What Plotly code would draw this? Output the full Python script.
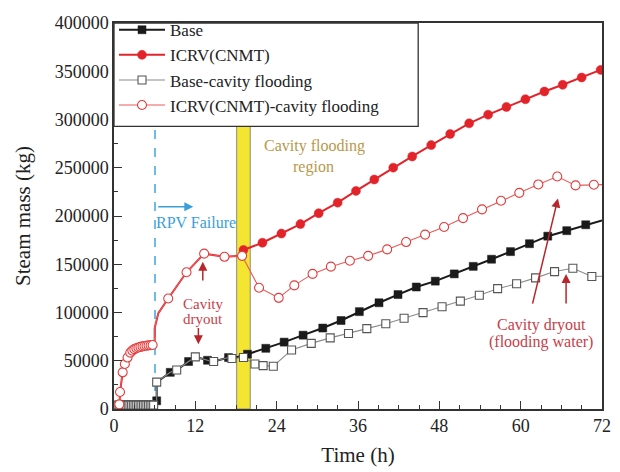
import plotly.graph_objects as go

FONT = "Liberation Serif"

# ---------------- data (hours, kg) ----------------
# shared pre-flooding path of Base / Base-cavity flooding; owner: F = Base marker, O = Base-cavity flooding marker
pre_base_t = [0.6, 0.85, 1.1, 1.35, 1.6, 1.85, 2.1, 2.35, 2.6, 2.85, 3.1, 3.35, 3.6, 3.85, 4.1, 4.35,
              4.6, 4.85, 5.1, 5.35, 5.6, 5.85, 6.3, 6.3, 8.3, 9.25, 11.0, 12.0, 13.8, 14.7, 16.9, 17.4]
pre_base_v = [4000, 4000, 4000, 4000, 4000, 4000, 4000, 4000, 4000, 4000, 4000, 4000, 4000, 4000, 4000, 4000,
              4000, 4000, 4000, 4000, 4000, 4000, 8500, 27800, 38000, 40400, 49200, 54000, 50500, 49200, 53300, 52300]
pre_base_owner = ["O", "O", "O", "O", "O", "O", "O", "O", "O", "O", "O", "O", "O", "O", "O", "O",
                  "O", "O", "O", "O", "O", "O", "F", "O", "F", "O", "F", "O", "F", "O", "F", "O"]

base_post_t = [19.7, 22.4, 25.1, 27.9, 30.8, 33.5, 36.2, 39.1, 41.9, 44.6, 47.4, 50.2, 53.0, 55.7,
               58.5, 61.3, 64.0, 66.8, 69.6]
base_post_v = [56800, 62900, 69300, 76500, 83900, 91700, 100900, 110100, 118600, 126400, 132500, 140000,
               147800, 155200, 163100, 171300, 179100, 184800, 190900]
base_end_v = 195400

basecf_post_t = [19.1, 20.8, 22.0, 23.5, 26.2, 29.1, 31.9, 34.6, 37.3, 40.1, 42.8, 45.6, 48.4, 51.1,
                 53.9, 56.6, 59.4, 62.2, 65.0, 67.7, 70.5]
basecf_post_v = [53300, 46600, 44900, 44300, 61200, 68000, 73700, 78200, 83300, 88400, 94100, 99900,
                 106000, 111800, 117900, 124700, 129800, 135900, 142400, 145800, 137300]
basecf_end_v = 137600

# shared pre-flooding path of ICRV(CNMT) / ICRV(CNMT)-cavity flooding; 1 = open-circle marker shown
pre_icrv_t = [0.78, 0.78, 0.89, 1.28, 1.6, 2.0, 2.4, 2.7, 3.0, 3.3, 3.6, 3.9, 4.2, 4.5, 4.8, 5.1, 5.4, 5.7,
              6.0, 6.0, 6.54, 8.0, 10.7, 13.3, 16.3, 18.9]
pre_icrv_v = [0, 4800, 17600, 38000, 46600, 53300, 58400, 60500, 62000, 63000, 63800, 64400, 64900, 65300,
              65600, 65900, 66100, 66300, 66300, 83900, 99200, 114500, 141700, 161000, 157700, 158700]
pre_icrv_mk = [0, 1, 1, 1, 1, 1, 1, 1, 1, 1, 1, 1, 1, 1, 1, 1, 1, 1, 0, 0, 0, 1, 1, 1, 1, 1]

icrv_post_t = [19.1, 21.9, 24.7, 27.5, 30.2, 33.0, 35.7, 38.4, 41.2, 44.0, 46.8, 49.6, 52.4, 55.2,
               57.9, 60.7, 63.5, 66.2, 69.0, 71.8]
icrv_post_v = [164800, 172300, 181800, 191600, 202900, 213800, 226000, 237800, 250100, 261700, 273500,
               285000, 296000, 305000, 313000, 321000, 329000, 336000, 343500, 351400]

icrvcf_post_t = [21.4, 24.3, 26.6, 29.3, 32.0, 34.8, 37.5, 40.3, 43.1, 45.9, 48.7, 51.5, 54.3, 57.1,
                 59.8, 62.6, 65.4, 68.1, 70.8]
icrvcf_post_v = [125700, 115200, 128100, 140000, 147500, 153600, 158700, 165400, 173000, 180700, 188600,
                 197800, 206900, 215800, 224000, 232700, 240900, 231700, 232400]
icrvcf_end_v = 232500

t_end = 72.0
rpv_failure_t = 6.05
flood_t0, flood_t1 = 18.1, 20.1

x_ticks = [0, 12, 24, 36, 48, 60, 72]
y_ticks = [0, 50000, 100000, 150000, 200000, 250000, 300000, 350000, 400000]

names = ["Base", "ICRV(CNMT)", "Base-cavity flooding", "ICRV(CNMT)-cavity flooding"]

# ---------------- styles ----------------
BLACK = "#1a1a1a"
RED = "#e3232a"
GRAY_LINE = "#8a8a8a"
GRAY_MK = "#555555"
PINK_LINE = "#ea5a5a"
PINK_MK = "#e43c3c"

# ---------------- build series ----------------
base_line_t = pre_base_t + base_post_t + [t_end]
base_line_v = pre_base_v + base_post_v + [base_end_v]
base_mk_t = [t for t, o in zip(pre_base_t, pre_base_owner) if o == "F"] + base_post_t
base_mk_v = [v for v, o in zip(pre_base_v, pre_base_owner) if o == "F"] + base_post_v

basecf_line_t = pre_base_t + basecf_post_t + [t_end]
basecf_line_v = pre_base_v + basecf_post_v + [basecf_end_v]
basecf_mk_t = [t for t, o in zip(pre_base_t, pre_base_owner) if o == "O"] + basecf_post_t
basecf_mk_v = [v for v, o in zip(pre_base_v, pre_base_owner) if o == "O"] + basecf_post_v

icrv_line_t = pre_icrv_t + icrv_post_t
icrv_line_v = pre_icrv_v + icrv_post_v
icrv_mk_t = icrv_post_t
icrv_mk_v = icrv_post_v

icrvcf_line_t = pre_icrv_t + icrvcf_post_t + [t_end]
icrvcf_line_v = pre_icrv_v + icrvcf_post_v + [icrvcf_end_v]
icrvcf_mk_t = [t for t, m in zip(pre_icrv_t, pre_icrv_mk) if m] + icrvcf_post_t
icrvcf_mk_v = [v for v, m in zip(pre_icrv_v, pre_icrv_mk) if m] + icrvcf_post_v

fig = go.Figure()


def line(t, v, color, width):
    fig.add_trace(go.Scatter(x=t, y=v, mode="lines", line=dict(color=color, width=width),
                             showlegend=False, hoverinfo="skip"))


def marks(t, v, symbol, size, fill, lc, lw):
    fig.add_trace(go.Scatter(x=t, y=v, mode="markers",
                             marker=dict(symbol=symbol, size=size, color=fill, line=dict(color=lc, width=lw)),
                             showlegend=False, hoverinfo="skip"))


line(base_line_t, base_line_v, BLACK, 2)
line(icrv_line_t, icrv_line_v, RED, 2)
marks(base_mk_t, base_mk_v, "square", 8, BLACK, BLACK, 0.5)
marks(icrv_mk_t, icrv_mk_v, "circle", 9, RED, RED, 0.5)
line(basecf_line_t, basecf_line_v, GRAY_LINE, 1.1)
line(icrvcf_line_t, icrvcf_line_v, PINK_LINE, 1.1)
marks(basecf_mk_t, basecf_mk_v, "square", 8, "white", GRAY_MK, 1.1)
marks(icrvcf_mk_t, icrvcf_mk_v, "circle", 9, "white", PINK_MK, 1.1)

# legend entries
leg_styles = [
    (BLACK, 2, "square", 8, BLACK, BLACK, 0.5),
    (RED, 2, "circle", 9, RED, RED, 0.5),
    (GRAY_LINE, 1.1, "square", 8, "white", GRAY_MK, 1.1),
    (PINK_LINE, 1.1, "circle", 9, "white", PINK_MK, 1.1),
]
for nm, (lc, lw, sym, ms, mf, mlc, mlw) in zip(names, leg_styles):
    fig.add_trace(go.Scatter(x=[None], y=[None], mode="lines+markers", name=nm,
                             line=dict(color=lc, width=lw),
                             marker=dict(symbol=sym, size=ms, color=mf, line=dict(color=mlc, width=mlw))))

# shapes
fig.add_shape(type="rect", x0=flood_t0, x1=flood_t1, y0=0, y1=400000, xref="x", yref="y",
              fillcolor="#f4e531", line=dict(color="#8c8c80", width=1), layer="below")
fig.add_shape(type="line", x0=rpv_failure_t, x1=rpv_failure_t, y0=0, y1=400000, xref="x", yref="y",
              line=dict(color="#3fa6de", width=1.5, dash="dash"), layer="below")
# legend frame (white box over the plot's top-left corner)
fig.add_shape(type="rect", x0=0, x1=304 / 487.7, y0=1 - 105 / 392, y1=1, xref="x domain", yref="y domain",
              fillcolor="white", line=dict(color="#333333", width=1.3), layer="above")

ann = []
BLUE = "#3aa0da"
DRED = "#b8262b"
TRED = "#c8404a"
GOLD = "#b9984a"


def arrow(x, y, ax, ay, color, width=1.5):
    ann.append(dict(x=x, y=y, ax=ax, ay=ay, xref="x", yref="y", axref="x", ayref="y",
                    showarrow=True, arrowhead=2, arrowsize=1.2, arrowwidth=width, arrowcolor=color, text=""))


def label(x, y, text, color, size=16):
    ann.append(dict(x=x, y=y, xref="x", yref="y", text=text, showarrow=False,
                    font=dict(family=FONT, size=size, color=color), xanchor="center", yanchor="middle"))


arrow(11.7, 209700, 6.3, 209700, BLUE)
label(12.1, 193700, "RPV Failure", BLUE)
label(29.6, 272500, "Cavity flooding", GOLD)
label(29.4, 250500, "region", GOLD)
arrow(13.1, 152600, 13.1, 131500, DRED)
label(13.1, 109000, "Cavity", TRED, 15)
label(13.1, 93000, "dryout", TRED, 15)
arrow(12.45, 67000, 12.45, 85600, DRED)
arrow(65.5, 218100, 61.7, 107700, DRED)
arrow(66.7, 140000, 66.7, 107700, DRED)
label(63.0, 87400, "Cavity dryout", TRED)
label(63.0, 69600, "(flooding water)", TRED)

axis_common = dict(showgrid=False, zeroline=False, showline=True, linecolor="#333333", linewidth=1.5,
                   mirror=True, ticks="inside", ticklen=8, tickwidth=1.3, tickcolor="#333333",
                   automargin=False,
                   tickfont=dict(family=FONT, size=18, color="#222222"))

fig.update_layout(
    width=620, height=472,
    margin=dict(l=114, r=18, t=17, b=63),
    paper_bgcolor="white", plot_bgcolor="white",
    font=dict(family=FONT, size=18, color="#222222"),
    showlegend=True,
    legend=dict(x=0, y=1.028, xanchor="left", yanchor="top", bgcolor="rgba(0,0,0,0)",
                borderwidth=0, font=dict(family=FONT, size=17, color="#222222"),
                itemwidth=46, tracegroupgap=0),
    annotations=ann,
    xaxis=dict(range=[0, 72], tickvals=x_ticks,
               minor=dict(dtick=3, ticks="inside", ticklen=4, tickcolor="#333333"),
               title=dict(text="Time (h)", font=dict(family=FONT, size=21, color="#222222"), standoff=12),
               **axis_common),
    yaxis=dict(range=[0, 400000], tickvals=y_ticks, tickformat="d",
               minor=dict(dtick=25000, ticks="inside", ticklen=4, tickcolor="#333333"),
               title=dict(text="Steam mass (kg)", font=dict(family=FONT, size=21, color="#222222"), standoff=18),
               **axis_common),
)

fig.write_html("out.html")
